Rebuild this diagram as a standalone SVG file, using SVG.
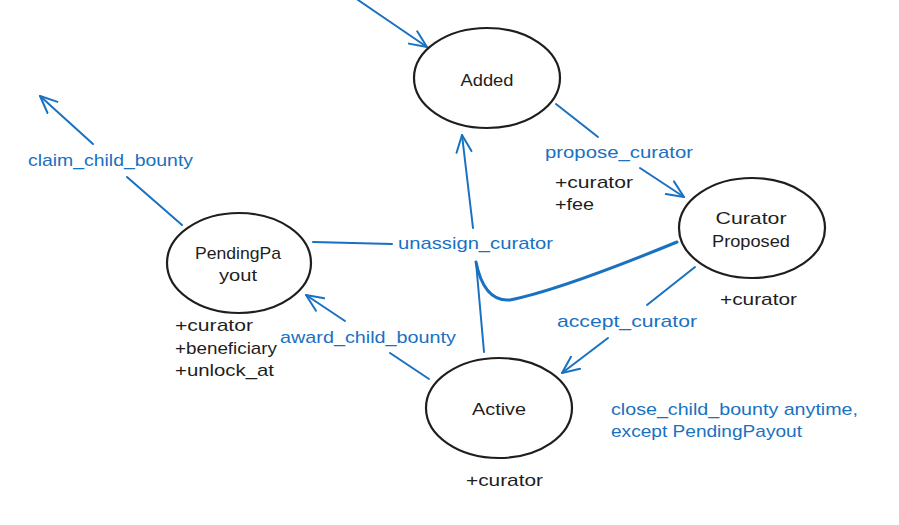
<svg xmlns="http://www.w3.org/2000/svg" width="899" height="525" viewBox="0 0 899 525">
<style>
.node{fill:none;stroke:#1e1e1e;stroke-width:2.2}
.t{font-family:"Liberation Sans",sans-serif;font-size:17px;fill:#1e1e1e}
.c{text-anchor:middle}
.b{fill:#1971c2}
.e{fill:none;stroke:#1971c2;stroke-width:2;stroke-linecap:round}
</style>
<defs>
<marker id="ah" viewBox="0 0 20 20" refX="18" refY="10" markerWidth="20" markerHeight="20" markerUnits="userSpaceOnUse" orient="auto">
<path d="M1,2.5 L18,10 L1,17.5" fill="none" stroke="#1971c2" stroke-width="2" stroke-linecap="round" stroke-linejoin="round"/>
</marker>
</defs>
<rect width="899" height="525" fill="#ffffff"/>
<g id="connectors">
<path class="e" d="M358,0 L427,47" marker-end="url(#ah)"/>
<path class="e" d="M556,104 L598,137"/>
<path class="e" d="M640,168 L684,197" marker-end="url(#ah)"/>
<path class="e" d="M695,267 L647,305"/>
<path class="e" d="M608,338 L562,373" marker-end="url(#ah)"/>
<path class="e" d="M677,242 Q560,290 510,300 Q484,302 476,262" style="stroke-width:3"/>
<path class="e" d="M484,352 L476,262"/>
<path class="e" d="M473,228 L462,135" marker-end="url(#ah)"/>
<path class="e" d="M313,242 L392,244"/>
<path class="e" d="M429,379 L390,353"/>
<path class="e" d="M345,321 L306,295" marker-end="url(#ah)"/>
<path class="e" d="M182,225 L127,177"/>
<path class="e" d="M93,144 L40,96" marker-end="url(#ah)"/>
</g>
<g id="added">
<ellipse class="node" cx="487" cy="78" rx="73" ry="50"/>
<text class="t c" x="487" y="86" textLength="53" lengthAdjust="spacingAndGlyphs">Added</text>
</g>
<g id="curator-proposed">
<ellipse class="node" cx="752" cy="228" rx="73" ry="50"/>
<text class="t c" x="751" y="224" textLength="71" lengthAdjust="spacingAndGlyphs">Curator</text>
<text class="t c" x="751" y="247" textLength="78" lengthAdjust="spacingAndGlyphs">Proposed</text>
</g>
<g id="pending-payout">
<ellipse class="node" cx="239" cy="263" rx="72" ry="50"/>
<text class="t c" x="238" y="259" textLength="86" lengthAdjust="spacingAndGlyphs">PendingPa</text>
<text class="t c" x="238" y="281" textLength="38" lengthAdjust="spacingAndGlyphs">yout</text>
</g>
<g id="active">
<ellipse class="node" cx="499" cy="408" rx="73" ry="50"/>
<text class="t c" x="499" y="415" textLength="54" lengthAdjust="spacingAndGlyphs">Active</text>
</g>
<g id="notes">
<text class="t" x="720" y="305" textLength="77" lengthAdjust="spacingAndGlyphs">+curator</text>
<text class="t" x="555" y="188" textLength="78" lengthAdjust="spacingAndGlyphs">+curator</text>
<text class="t" x="555" y="210" textLength="39" lengthAdjust="spacingAndGlyphs">+fee</text>
<text class="t" x="175" y="331" textLength="78" lengthAdjust="spacingAndGlyphs">+curator</text>
<text class="t" x="175" y="354" textLength="102" lengthAdjust="spacingAndGlyphs">+beneficiary</text>
<text class="t" x="175" y="376" textLength="99" lengthAdjust="spacingAndGlyphs">+unlock_at</text>
<text class="t" x="466" y="486" textLength="77" lengthAdjust="spacingAndGlyphs">+curator</text>
</g>
<g id="labels">
<text class="t b" x="545" y="158" textLength="148" lengthAdjust="spacingAndGlyphs">propose_curator</text>
<text class="t b" x="398" y="249" textLength="155" lengthAdjust="spacingAndGlyphs">unassign_curator</text>
<text class="t b" x="557" y="327" textLength="140" lengthAdjust="spacingAndGlyphs">accept_curator</text>
<text class="t b" x="280" y="343" textLength="176" lengthAdjust="spacingAndGlyphs">award_child_bounty</text>
<text class="t b" x="28" y="166" textLength="165" lengthAdjust="spacingAndGlyphs">claim_child_bounty</text>
<text class="t b" x="611" y="415" textLength="247" lengthAdjust="spacingAndGlyphs">close_child_bounty anytime,</text>
<text class="t b" x="611" y="437" textLength="191" lengthAdjust="spacingAndGlyphs">except PendingPayout</text>
</g>
</svg>
